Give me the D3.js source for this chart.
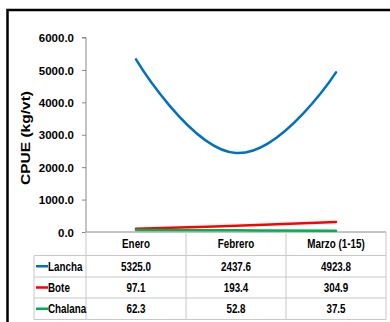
<!DOCTYPE html>
<html><head><meta charset="utf-8">
<script src="https://cdn.jsdelivr.net/npm/d3@7"></script>
<style>
body{margin:0;background:#fff;}
svg{display:block;}
text{font-family:"Liberation Sans",Arial,sans-serif;font-weight:bold;fill:#000;}
</style></head><body>
<svg id="c" width="390" height="322"></svg>
<script>
const categories = ["Enero", "Febrero", "Marzo (1-15)"];
const seriesNames = ["Lancha", "Bote", "Chalana"];
const lancha = [5325.0, 2437.6, 4923.8];
const bote = [97.1, 193.4, 304.9];
const chalana = [62.3, 52.8, 37.5];
const colors = ["#0070C0", "#FF0000", "#00B050"];
const yTicks = [0, 1000, 2000, 3000, 4000, 5000, 6000];
const yLabel = "CPUE (kg/vt)";

const series = [lancha, bote, chalana];
const svg = d3.select("#c");

// outer frame
svg.append("rect").attr("x", 7.5).attr("y", 10).attr("width", 400).attr("height", 400)
  .attr("fill", "none").attr("stroke", "#000").attr("stroke-width", 2.5);

const x0 = 86, x1 = 386, yTop = 37.5, yBot = 232;
const x = d3.scaleBand().domain(categories).range([x0, x1]);
const y = d3.scaleLinear().domain([0, 6000]).range([yBot, yTop]);

// y axis
const yAxis = svg.append("g").attr("transform", `translate(${x0},0)`)
  .call(d3.axisLeft(y).tickValues(yTicks).tickFormat(d3.format(".1f")).tickSize(4).tickPadding(8));
yAxis.select(".domain").attr("stroke", "#888").attr("d", `M-4,${yTop}H0V${yBot}`);
yAxis.selectAll(".tick line").attr("stroke", "#888");
yAxis.selectAll(".tick text").style("font-size", "11.5px").attr("font-family", null).attr("dy", "0.36em");

svg.append("text").attr("transform", `translate(30,138) rotate(-90) scale(1.15,1)`)
  .attr("text-anchor", "middle").style("font-size", "13.5px").text(yLabel);

// table grid
const rowY = [232, 255.5, 277, 298, 319.5];
const gridC = "#c8c8c8";
const g = svg.append("g");
function ctext(px, py, str, anchor) {
  return g.append("text").attr("transform", `translate(${px},${py}) scale(0.82,1)`)
    .attr("text-anchor", anchor || "middle").style("font-size", "12px").text(str);
}
// horizontal lines
g.append("line").attr("x1", x0).attr("x2", x1).attr("y1", rowY[0]).attr("y2", rowY[0]).attr("stroke", "#888");
for (let i = 1; i < rowY.length; i++) {
  g.append("line").attr("x1", 34).attr("x2", x1).attr("y1", rowY[i]).attr("y2", rowY[i]).attr("stroke", gridC);
}
// vertical lines
g.append("line").attr("x1", 34).attr("x2", 34).attr("y1", rowY[1]).attr("y2", rowY[4]).attr("stroke", gridC);
categories.forEach((c) => {
  g.append("line").attr("x1", x(c)).attr("x2", x(c)).attr("y1", rowY[0]).attr("y2", rowY[4]).attr("stroke", gridC);
});
g.append("line").attr("x1", x1).attr("x2", x1).attr("y1", rowY[0]).attr("y2", rowY[4]).attr("stroke", gridC);

// header
categories.forEach((c) => {
  ctext(x(c) + x.bandwidth() / 2, (rowY[0] + rowY[1]) / 2 + 4.5, c);
});
// rows
seriesNames.forEach((name, i) => {
  const cy = (rowY[i + 1] + rowY[i + 2]) / 2;
  g.append("line").attr("x1", 36).attr("x2", 48).attr("y1", cy).attr("y2", cy)
    .attr("stroke", colors[i]).attr("stroke-width", 2.5);
  ctext(48, cy + 4.3, name, "start");
  series[i].forEach((v, j) => {
    ctext(x(categories[j]) + x.bandwidth() / 2, cy + 4.3, v.toFixed(1));
  });
});

// lines
const line = d3.line()
  .x((d, j) => x(categories[j]) + x.bandwidth() / 2)
  .y(d => y(d))
  .curve(d3.curveCardinal.tension(-0.35));
series.forEach((s, i) => {
  svg.append("path").attr("d", line(s)).attr("fill", "none")
    .attr("stroke", colors[i]).attr("stroke-width", 2.5).attr("stroke-linecap", "round");
});
</script>
</body></html>
